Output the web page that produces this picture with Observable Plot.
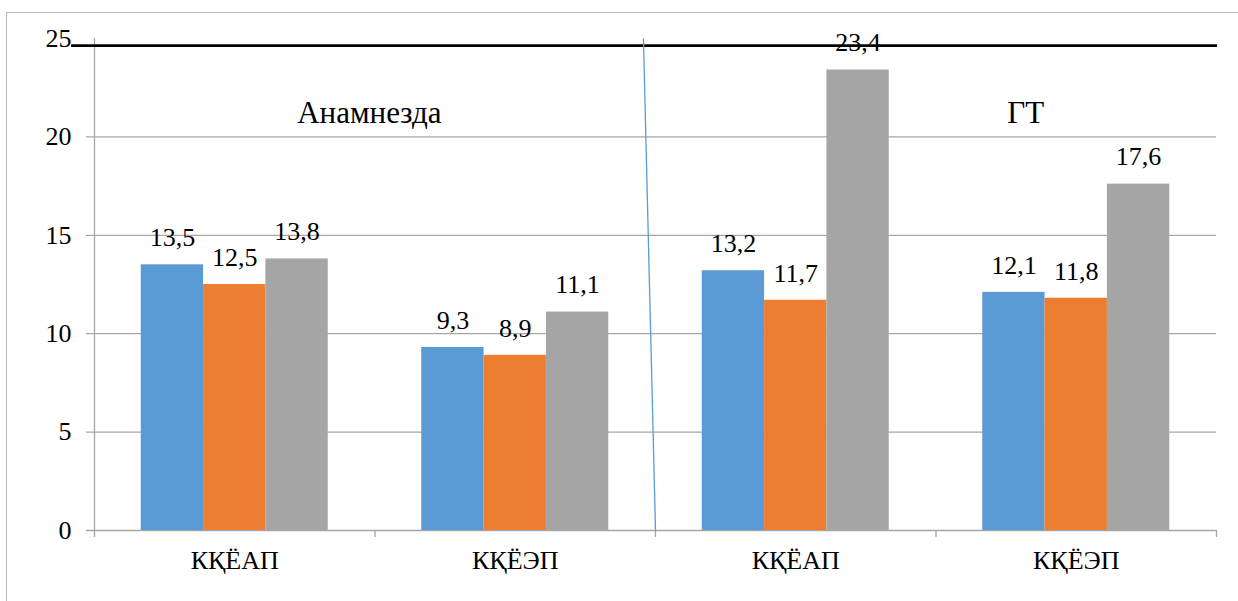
<!DOCTYPE html>
<html>
<head>
<meta charset="utf-8">
<script src="https://cdn.jsdelivr.net/npm/d3@7"></script>
<script src="https://cdn.jsdelivr.net/npm/@observablehq/plot@0.6"></script>
<style>
  html, body { margin: 0; padding: 0; background: #fff; overflow: hidden; }
  #wrap { position: relative; width: 1238px; height: 601px; }
  #frame { position: absolute; left: 6px; top: 12px; width: 1400px; height: 800px;
           border-left: 1.5px solid #b8b8b8; border-top: 1.5px solid #b8b8b8; }
  #chart { position: absolute; left: 0; top: 0; }
</style>
</head>
<body>
<div id="wrap"><div id="frame"></div><div id="chart"></div></div>
<script>
// ---- data ----
const groupLabels = ["КҚЁАП", "КҚЁЭП", "КҚЁАП", "КҚЁЭП"];
const seriesKeys = ["s1", "s2", "s3"];
const seriesColors = ["#5B9BD5", "#ED7D31", "#A5A5A5"];
const values1 = [13.5, 9.3, 13.2, 12.1];
const values2 = [12.5, 8.9, 11.7, 11.8];
const values3 = [13.8, 11.1, 23.4, 17.6];
const yTicks = [0, 5, 10, 15, 20, 25];
const gridTicks = [0, 5, 10, 15, 20];
const periodLabels = ["Анамнезда", "ГТ"];

// ---- build table ----
const allSeries = [values1, values2, values3];
const rows = [];
groupLabels.forEach((g, gi) => {
  seriesKeys.forEach((s, si) => {
    rows.push({gi, series: s, value: allSeries[si][gi]});
  });
});

// inner band layout of the three bars inside each category (category width = 1 x-unit)
const inner = d3.scaleBand().domain(seriesKeys).range([0, 1]).paddingInner(0).paddingOuter(0.75);
const bw = inner.bandwidth();
const fmt = v => String(v).replace(".", ",");
const serif = "Liberation Serif";

const chart = Plot.plot({
  width: 1238,
  height: 601,
  marginLeft: 94,
  marginRight: 22,
  marginTop: 38,
  marginBottom: 71,
  style: {fontSize: "26px", color: "#000", background: "transparent", overflow: "visible"},
  x: {domain: [0, groupLabels.length], axis: null},
  y: {domain: [0, 25], axis: null},
  color: {domain: seriesKeys, range: seriesColors},
  marks: [
    // gridlines (with left tick marks)
    Plot.ruleY(gridTicks, {x1: 0, x2: groupLabels.length, stroke: "#a6a6a6", strokeWidth: 1.3, insetLeft: -8}),
    // y axis line
    Plot.ruleX([0], {y1: 0, y2: 25, stroke: "#a6a6a6", strokeWidth: 1.3}),
    // category boundary ticks below axis
    Plot.axisX(d3.range(groupLabels.length + 1), {tickSize: 7, tickFormat: () => "", label: null, stroke: "#a6a6a6", strokeWidth: 1.3}),
    // category labels
    Plot.axisX(groupLabels.map((_, i) => i + 0.5), {tickSize: 0, tickPadding: 20, label: null, tickFormat: v => groupLabels[Math.floor(v)], fontSize: 26, fontFamily: serif, fill: "#000"}),
    // y tick labels
    Plot.axisY(yTicks, {tickSize: 0, tickPadding: 23, label: null, fontSize: 26, fontFamily: serif, fill: "#000"}),
    // bars
    Plot.rectY(rows, {
      x1: d => d.gi + inner(d.series),
      x2: d => d.gi + inner(d.series) + bw,
      y1: 0, y2: "value",
      fill: "series"
    }),
    // value labels
    Plot.text(rows, {
      x: d => d.gi + inner(d.series) + bw / 2,
      y: "value",
      text: d => fmt(d.value),
      dy: -27,
      fontSize: 26,
      fontFamily: serif,
      fill: "#000"
    }),
    // black line near the top
    Plot.ruleY([24.64], {x1: -0.082, x2: groupLabels.length + 0.004, stroke: "#000", strokeWidth: 2.6}),
    // blue separator line between periods
    Plot.link([0], {x1: 1.957, y1: 25, x2: 2, y2: 0, stroke: "#5B9BD5", strokeWidth: 1.3}),
    // period annotations
    Plot.text([0], {x: 0.98, y: 21.2, text: () => periodLabels[0], fontSize: 31, fontFamily: serif, fill: "#000"}),
    Plot.text([0], {x: 3.32, y: 21.2, text: () => periodLabels[1], fontSize: 31, fontFamily: serif, fill: "#000"})
  ]
});
chart.style.fontFamily = "'Liberation Serif', serif";
document.getElementById("chart").appendChild(chart);
</script>
</body>
</html>
